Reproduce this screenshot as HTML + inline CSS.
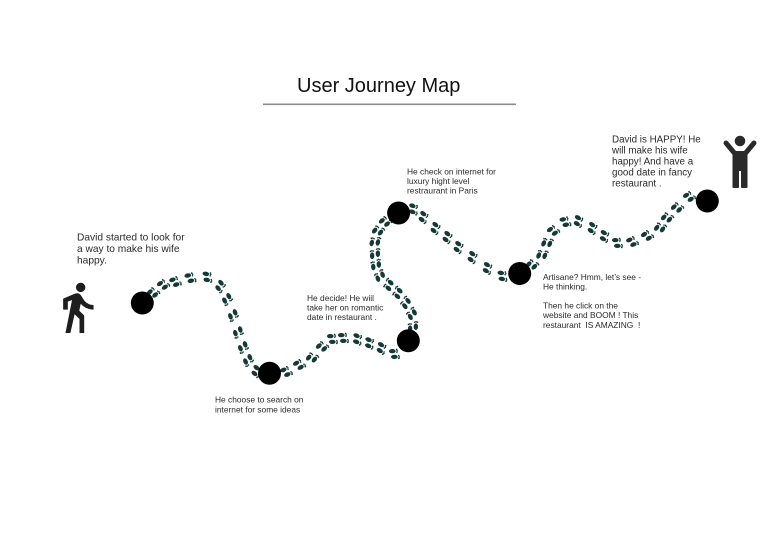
<!DOCTYPE html>
<html>
<head>
<meta charset="utf-8">
<style>
  html, body { margin:0; padding:0; background:#ffffff; }
  body { width:768px; height:540px; overflow:hidden; }
  svg { display:block; }
  .t { font-family:"Liberation Sans", Arial, sans-serif; fill:#2a2a2a; }
</style>
</head>
<body>
<svg width="768" height="540" viewBox="0 0 768 540" xmlns="http://www.w3.org/2000/svg">
  <defs>
    <g id="fp" fill="#143a35" transform="scale(1.15)">
      <ellipse cx="-2.5" cy="1.5" rx="1.9" ry="2.9"/>
      <circle cx="-3.9" cy="-2.3" r="0.75"/>
      <circle cx="-2.7" cy="-2.8" r="0.7"/>
      <circle cx="-1.5" cy="-2.5" r="0.65"/>
      <ellipse cx="2.5" cy="-0.3" rx="1.9" ry="2.9"/>
      <circle cx="1.4" cy="-4.1" r="0.65"/>
      <circle cx="2.6" cy="-4.6" r="0.7"/>
      <circle cx="3.8" cy="-4.2" r="0.75"/>
    </g>
  </defs>

  <rect x="0" y="0" width="768" height="540" fill="#ffffff"/>

  <!-- Title -->
  <text x="297" y="92" font-family="Liberation Sans, Arial, sans-serif" font-size="20" fill="#111">User Journey Map</text>
  <rect x="263" y="103.5" width="253" height="1.6" fill="#8a8a8a"/>

  <!-- Footprints segment 1 -->
  <use href="#fp" transform="translate(153,293) rotate(49)"/>
  <use href="#fp" transform="translate(163,285) rotate(56)"/>
  <use href="#fp" transform="translate(175,282) rotate(72)"/>
  <use href="#fp" transform="translate(190,278) rotate(79)"/>
  <use href="#fp" transform="translate(207,277) rotate(101)"/>
  <use href="#fp" transform="translate(220,286) rotate(138)"/>
  <use href="#fp" transform="translate(227,299) rotate(153)"/>
  <use href="#fp" transform="translate(233,315) rotate(159)"/>
  <use href="#fp" transform="translate(238,332) rotate(163)"/>
  <use href="#fp" transform="translate(243,347) rotate(160)"/>
  <use href="#fp" transform="translate(248,360) rotate(155)"/>
  <use href="#fp" transform="translate(256,371) rotate(129)"/>

  <!-- Footprints segment 2 -->
  <use href="#fp" transform="translate(286,372) rotate(69)"/>
  <use href="#fp" transform="translate(299,365) rotate(62)"/>
  <use href="#fp" transform="translate(312,358) rotate(39)"/>
  <use href="#fp" transform="translate(322,347) rotate(48)"/>
  <use href="#fp" transform="translate(332,339) rotate(90)"/>
  <use href="#fp" transform="translate(343,338) rotate(90)"/>
  <use href="#fp" transform="translate(357,339) rotate(113)"/>
  <use href="#fp" transform="translate(369,343) rotate(113)"/>
  <use href="#fp" transform="translate(381,348) rotate(122)"/>
  <use href="#fp" transform="translate(394,354) rotate(90)"/>

  <!-- Footprints segment 3 -->
  <use href="#fp" transform="translate(413,327) rotate(0)"/>
  <use href="#fp" transform="translate(412,314) rotate(-29)"/>
  <use href="#fp" transform="translate(406,303) rotate(-39)"/>
  <use href="#fp" transform="translate(398,293) rotate(-48)"/>
  <use href="#fp" transform="translate(389,285) rotate(-48)"/>
  <use href="#fp" transform="translate(380,276) rotate(-20)"/>
  <use href="#fp" transform="translate(376,265) rotate(-5)"/>
  <use href="#fp" transform="translate(375,254) rotate(0)"/>
  <use href="#fp" transform="translate(375,242) rotate(15)"/>
  <use href="#fp" transform="translate(378,231) rotate(38)"/>
  <use href="#fp" transform="translate(385,222) rotate(51)"/>

  <!-- Footprints segment 4 -->
  <use href="#fp" transform="translate(413,209) rotate(110)"/>
  <use href="#fp" transform="translate(423,217) rotate(125)"/>
  <use href="#fp" transform="translate(435,228) rotate(127)"/>
  <use href="#fp" transform="translate(447,237) rotate(127)"/>
  <use href="#fp" transform="translate(458,247) rotate(125)"/>
  <use href="#fp" transform="translate(472,257) rotate(125)"/>
  <use href="#fp" transform="translate(487,268) rotate(120)"/>
  <use href="#fp" transform="translate(502,276) rotate(100)"/>

  <!-- Footprints segment 5 -->
  <use href="#fp" transform="translate(532,265) rotate(45)"/>
  <use href="#fp" transform="translate(542,255) rotate(23)"/>
  <use href="#fp" transform="translate(547,243) rotate(25)"/>
  <use href="#fp" transform="translate(553,231) rotate(56)"/>
  <use href="#fp" transform="translate(565,222) rotate(81)"/>
  <use href="#fp" transform="translate(578,221) rotate(120)"/>
  <use href="#fp" transform="translate(592,228) rotate(124)"/>
  <use href="#fp" transform="translate(604,236) rotate(118)"/>
  <use href="#fp" transform="translate(617,243) rotate(90)"/>
  <use href="#fp" transform="translate(632,242) rotate(68)"/>
  <use href="#fp" transform="translate(647,236) rotate(58)"/>
  <use href="#fp" transform="translate(660,228) rotate(35)"/>
  <use href="#fp" transform="translate(667,218) rotate(42)"/>
  <use href="#fp" transform="translate(677,208) rotate(47)"/>
  <use href="#fp" transform="translate(689,197) rotate(60)"/>

  <!-- Milestone circles -->
  <circle cx="142.3" cy="303" r="11.5" fill="#000"/>
  <circle cx="269.5" cy="373.3" r="11.5" fill="#000"/>
  <circle cx="408.3" cy="340.7" r="11.5" fill="#000"/>
  <circle cx="398.6" cy="213" r="11.5" fill="#000"/>
  <circle cx="519.7" cy="273.5" r="11.5" fill="#000"/>
  <circle cx="707.3" cy="201" r="11.5" fill="#000"/>

  <!-- Walking figure -->
  <path transform="translate(49.1,279.2) scale(2.34)" fill="#1e1e1e"
        d="M13.5 5.5c1.1 0 2-.9 2-2s-.9-2-2-2-2 .9-2 2 .9 2 2 2zM9.8 8.9L7 23h2.1l1.8-8 2.1 2v6h2v-7.5l-2.1-2 .6-3C14.8 12 16.8 13 19 13v-2c-1.9 0-3.5-1-4.3-2.4l-1-1.6c-.4-.6-1-1-1.7-1-.3 0-.5.1-.8.1L6 8.3V13h2V9.6l1.8-.7"/>

  <!-- Cheering figure -->
  <g fill="#2a2a2a">
    <circle cx="740" cy="141" r="5.3"/>
    <polyline points="726,143 736,155 744,155 754,143" fill="none" stroke="#2a2a2a" stroke-width="5" stroke-linecap="round" stroke-linejoin="round"/>
    <rect x="732.5" y="151" width="15" height="20" rx="1.5"/>
    <rect x="732.5" y="166" width="6.5" height="22" rx="1"/>
    <rect x="741" y="166" width="6.5" height="22" rx="1"/>
  </g>

  <!-- Labels -->
  <text class="t" font-size="10.2">
    <tspan x="77" y="240.5">David started to look for</tspan>
    <tspan x="77" y="252">a way to make his wife</tspan>
    <tspan x="77" y="263.5">happy.</tspan>
  </text>

  <text class="t" font-size="8.4">
    <tspan x="215" y="402.6">He choose to search on</tspan>
    <tspan x="215" y="412.5">internet for some ideas</tspan>
  </text>

  <text class="t" font-size="8.4">
    <tspan x="307" y="301">He decide! He wiil</tspan>
    <tspan x="307" y="310.5">take her on romantic</tspan>
    <tspan x="307" y="320">date in restaurant .</tspan>
  </text>

  <text class="t" font-size="8.4">
    <tspan x="407" y="174.3">He check on internet for</tspan>
    <tspan x="407" y="183.8">luxury hight level</tspan>
    <tspan x="407" y="193.3">restraurant in Paris</tspan>
  </text>

  <text class="t" font-size="8.4">
    <tspan x="543" y="280">Artisane? Hmm, let’s see -</tspan>
    <tspan x="543" y="289.6">He thinking.</tspan>
    <tspan x="543" y="308.6">Then he click on the</tspan>
    <tspan x="543" y="318.2">website and BOOM ! This</tspan>
    <tspan x="543" y="327.8" xml:space="preserve">restaurant  IS AMAZING  !</tspan>
  </text>

  <text class="t" font-size="9.8">
    <tspan x="612" y="142.7">David is HAPPY! He</tspan>
    <tspan x="612" y="153.7">will make his wife</tspan>
    <tspan x="612" y="164.7">happy! And have a</tspan>
    <tspan x="612" y="175.7">good date in fancy</tspan>
    <tspan x="612" y="186.7">restaurant .</tspan>
  </text>
</svg>
</body>
</html>
